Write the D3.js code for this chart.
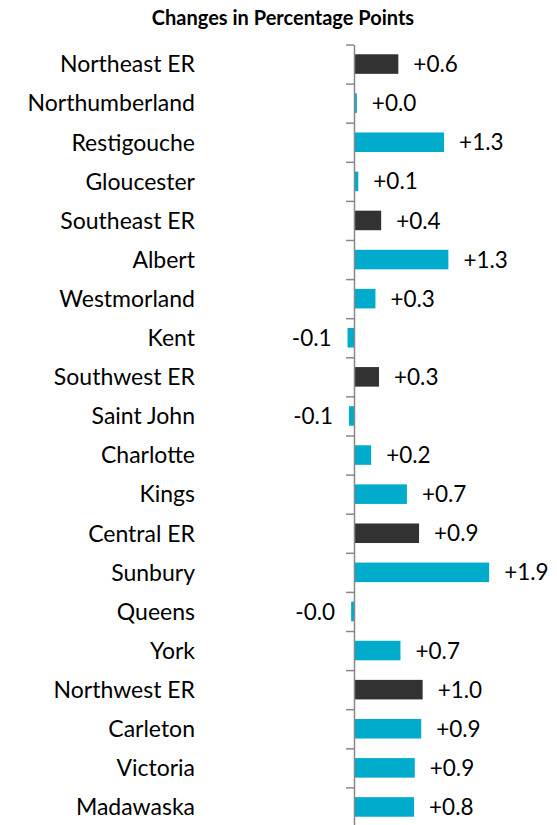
<!DOCTYPE html>
<html>
<head>
<meta charset="utf-8">
<script src="https://cdn.jsdelivr.net/npm/d3@7"></script>
<style>
  body { margin: 0; background: #fff; }
  text { font-family: Lato, "Open Sans", sans-serif; }
</style>
</head>
<body>
<div></div>
<script>
const width = 557
const height = 825

const regions = ['Northeast ER', 'Northumberland', 'Restigouche', 'Gloucester', 'Southeast ER',
    'Albert', 'Westmorland', 'Kent', 'Southwest ER', 'Saint John', 'Charlotte', 'Kings',
    'Central ER', 'Sunbury', 'Queens', 'York', 'Northwest ER', 'Carleton', 'Victoria', 'Madawaska']
const changes = [0.62, 0.04, 1.26, 0.06, 0.38, 1.32, 0.30, -0.09, 0.35, -0.07, 0.24, 0.74,
    0.91, 1.89, -0.04, 0.65, 0.96, 0.94, 0.85, 0.84]
const valueLabels = ['+0.6', '+0.0', '+1.3', '+0.1', '+0.4', '+1.3', '+0.3', '-0.1', '+0.3', '-0.1',
    '+0.2', '+0.7', '+0.9', '+1.9', '-0.0', '+0.7', '+1.0', '+0.9', '+0.9', '+0.8']
const title = 'Changes in Percentage Points'

let svg = d3.select('div').append('svg')
    .attr('width', width)
    .attr('height', height)

let data = regions.map((r, i) => ({ name: r, value: changes[i], label: valueLabels[i], er: r.endsWith(' ER') }))

const x = d3.scaleLinear().domain([-0.2, 2.0]).range([339.7, 497])
const y = d3.scaleBand().domain(regions).range([44.5, 826.5]).paddingInner(0.5).paddingOuter(0.25)

// title
svg.append('text')
    .attr('x', 283)
    .attr('y', 25)
    .attr('text-anchor', 'middle')
    .style('font-weight', 'bold')
    .style('font-size', '20px')
    .text(title)

// bars
svg.selectAll('rect.bar')
    .data(data)
    .enter()
    .append('rect')
    .attr('class', 'bar')
    .attr('x', d => x(Math.min(0, d.value)))
    .attr('y', d => y(d.name))
    .attr('width', d => Math.abs(x(d.value) - x(0)))
    .attr('height', y.bandwidth())
    .style('fill', d => d.er ? '#323232' : '#00abcb')

// value labels
svg.selectAll('text.val')
    .data(data)
    .enter()
    .append('text')
    .attr('class', 'val')
    .attr('x', d => d.value >= 0 ? x(d.value) + 15 : x(d.value) - 16)
    .attr('y', d => y(d.name) + y.bandwidth() / 2)
    .attr('dy', '0.36em')
    .attr('text-anchor', d => d.value >= 0 ? 'start' : 'end')
    .style('font-size', '22.5px')
    .text(d => d.label)

// category labels
svg.selectAll('text.cat')
    .data(data)
    .enter()
    .append('text')
    .attr('class', 'cat')
    .attr('x', 195)
    .attr('y', d => y(d.name) + y.bandwidth() / 2)
    .attr('dy', '0.36em')
    .attr('text-anchor', 'end')
    .style('font-size', '23px')
    .text(d => d.name)

// vertical axis with ticks between categories
const edge = d3.scaleLinear().domain([0, regions.length]).range([44.5, 826.5])
let axis = svg.append('g')
    .attr('transform', 'translate(' + x(0) + ',0)')
    .call(d3.axisLeft(edge).tickValues(d3.range(regions.length + 1)).tickSize(8).tickSizeOuter(0).tickFormat(''))
axis.select('.domain').attr('stroke', '#888').attr('stroke-width', 1.5)
axis.selectAll('.tick line').attr('stroke', '#888').attr('stroke-width', 1.5)
</script>
</body>
</html>
